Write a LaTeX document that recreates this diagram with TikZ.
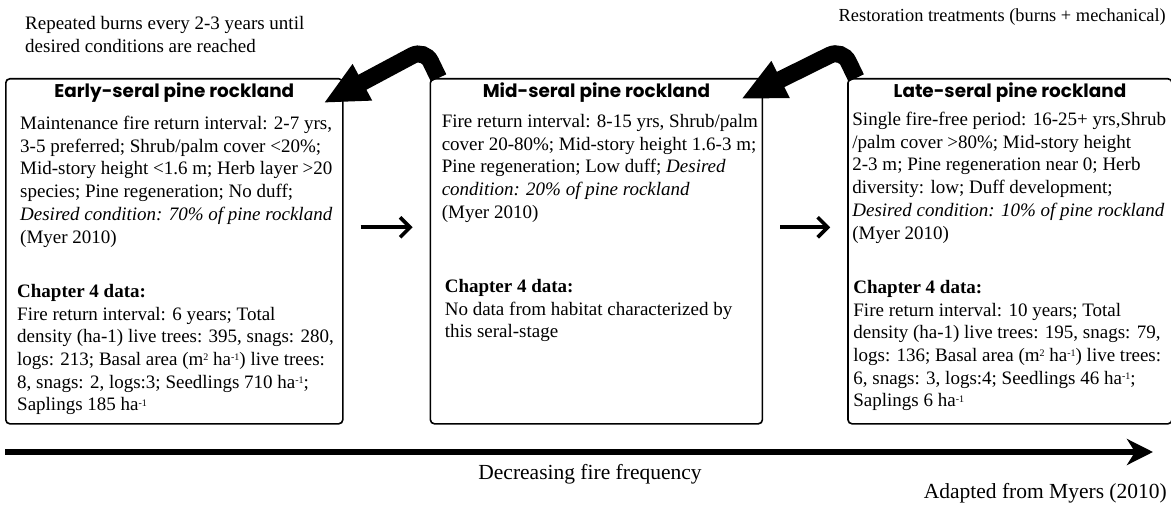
\documentclass[tikz,border=0pt]{standalone}
\usepackage{fontspec}
\setmainfont{Liberation Serif}
\newfontfamily\headfont{Poppins}
\usetikzlibrary{arrows.meta,positioning,calc}
\newcommand{\unitsup}[1]{\raisebox{0.55ex}{\fontsize{10}{10}\selectfont#1}}

\begin{document}
\begin{tikzpicture}[x=1pt,y=-1pt,
  every node/.style={font=\fontsize{19}{22.7}\selectfont},
  stagebox/.style={draw,line width=1.6pt,rounded corners=4pt,anchor=north west,minimum height=345pt,inner sep=0pt},
  head/.style={font=\headfont\bfseries\fontsize{18.4}{22}\selectfont,anchor=base},
  info/.style={align=left,anchor=north west,inner sep=0pt},
  remark/.style={align=left,inner sep=0pt},
  burn/.style={line width=17pt,rounded corners=14pt,-{Triangle[length=44pt,width=38pt]}},
  flow/.style={line width=3.6pt,-{Straight Barb[length=10pt,width=20pt]}},
  timeline/.style={line width=6pt,-{Stealth[length=26pt,width=26pt,inset=8pt]}}]
\useasboundingbox (0,0) rectangle (1171,505);
% the three seral stages
\node[stagebox,minimum width=337pt] (early) at (5,78) {};
\node[stagebox,minimum width=332pt,right=86pt of early] (mid) {};
\node[stagebox,minimum width=324pt,right=84pt of mid] (late) {};
\node[head] (earlyhead) at ($(early.north)+(0,20)$) {Early-seral pine rockland};
\node[head] (midhead) at ($(mid.north)+(0,20)$) {Mid-seral pine rockland};
\node[head] (latehead) at ($(late.north)+(0,20)$) {Late-seral pine rockland};
\node[info] (earlyinfo) at ($(early.north west)+(15,38)$) {Maintenance fire return interval: 2-7 yrs,\\
  3-5 preferred; Shrub/palm cover <20\%;\\
  Mid-story height <1.6 m; Herb layer >20\\
  species; Pine regeneration; No duff;\\
  \textit{Desired condition: 70\% of pine rockland}\\
  (Myer 2010)};
\node[info] (earlydata) at ($(early.north west)+(12,206)$) {\textbf{Chapter 4 data:}\\
  Fire return interval: 6 years; Total\\
  density (ha-1) live trees: 395, snags: 280,\\
  logs: 213; Basal area (m\unitsup{2} ha\unitsup{-1}) live trees:\\
  8, snags: 2, logs:3; Seedlings 710 ha\unitsup{-1};\\
  Saplings 185 ha\unitsup{-1}};
\node[info] (midinfo) at ($(mid.north west)+(12,36)$) {Fire return interval: 8-15 yrs, Shrub/palm\\
  cover 20-80\%; Mid-story height 1.6-3 m;\\
  Pine regeneration; Low duff; \textit{Desired}\\
  \textit{condition: 20\% of pine rockland}\\
  (Myer 2010)};
\node[info] (middata) at ($(mid.north west)+(15,201)$) {\textbf{Chapter 4 data:}\\
  No data from habitat characterized by\\
  this seral-stage};
\node[info] (lateinfo) at ($(late.north west)+(5,34)$) {Single fire-free period: 16-25+ yrs,Shrub\\
  /palm cover >80\%; Mid-story height\\
  2-3 m; Pine regeneration near 0; Herb\\
  diversity: low; Duff development;\\
  \textit{Desired condition: 10\% of pine rockland}\\
  (Myer 2010)};
\node[info] (latedata) at ($(late.north west)+(6,202)$) {\textbf{Chapter 4 data:}\\
  Fire return interval: 10 years; Total\\
  density (ha-1) live trees: 195, snags: 79,\\
  logs: 136; Basal area (m\unitsup{2} ha\unitsup{-1}) live trees:\\
  6, snags: 3, logs:4; Seedlings 46 ha\unitsup{-1};\\
  Saplings 6 ha\unitsup{-1}};
% treatments pushing back to earlier stages
\node[remark,anchor=north west] (burnnote) at (25,16) {Repeated burns every 2-3 years until\\desired conditions are reached};
\node[remark,anchor=north east,font=\fontsize{18.4}{22}\selectfont] (restnote) at (1166,9) {Restoration treatments (burns + mechanical)};
\draw[burn] ($(mid.north west)+(9,0)$) -- ($(mid.north west)+(-5,-29)$) -- ($(early.north east)+(-20,25)$);
\draw[burn] ($(late.north west)+(9,0)$) -- ($(late.north west)+(-5,-29)$) -- ($(mid.north east)+(-22,21)$);
\draw[flow] ([xshift=17pt,yshift=24pt]early.east) -- ([xshift=-17pt,yshift=24pt]mid.west);
\draw[flow] ([xshift=17pt,yshift=24pt]mid.east) -- ([xshift=-17pt,yshift=24pt]late.west);
% fire frequency axis
\coordinate (tstart) at (5,452);
\coordinate (tend) at (1153,452);
\draw[timeline] (tstart) -- (tend);
\node[font=\fontsize{21.5}{25}\selectfont] (freq) at (590,474) {Decreasing fire frequency};
\node[font=\fontsize{21.5}{25}\selectfont,anchor=south east,inner sep=0pt] (adapted) at (1167,503) {Adapted from Myers (2010)};
\end{tikzpicture}
\end{document}
